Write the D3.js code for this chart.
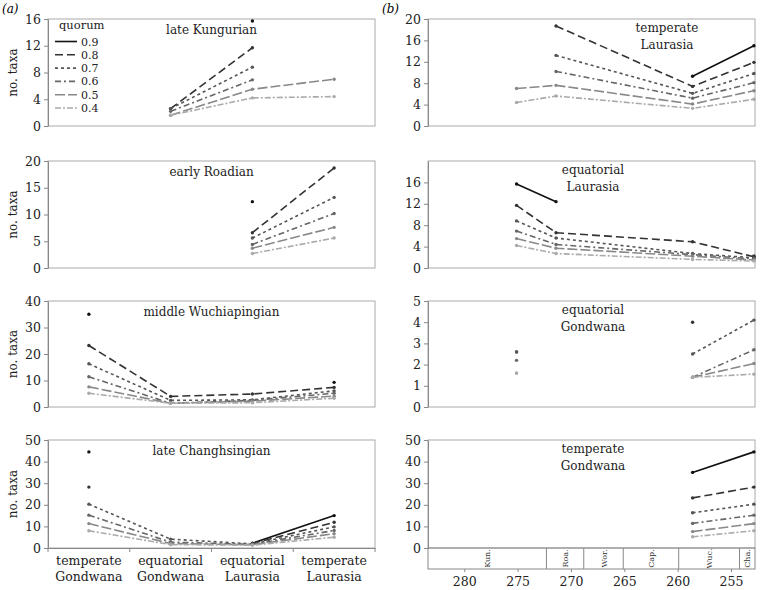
<!DOCTYPE html>
<html>
<head>
<meta charset="utf-8">
<script src="https://cdn.jsdelivr.net/npm/d3@7"></script>
<style>
  body { margin: 0; background: #fff; }
  svg, svg text { font-family: "DejaVu Serif", "Liberation Serif", serif; }
  .axis path, .axis line { stroke: #888; }
  .axis text { font-size: 12.5px; fill: #222; }
</style>
</head>
<body>
<svg width="760" height="590"></svg>
<script>
var quorums = ["0.9", "0.8", "0.7", "0.6", "0.5", "0.4"];
var regions = ["temperate Gondwana", "equatorial Gondwana", "equatorial Laurasia", "temperate Laurasia"];
var stages = ["late Kungurian", "early Roadian", "middle Wuchiapingian", "late Changhsingian"];
var stageAges = [275.1, 271.4, 258.6, 252.85];

// rows = quorum 0.9 .. 0.4, columns = regions
var lateKungurian = [
  [null, null, 15.7, null],
  [null, 2.6, 11.7, null],
  [null, 2.6, 8.8, null],
  [null, 2.2, 6.9, null],
  [null, 1.6, 5.5, 7.0],
  [null, 1.6, 4.2, 4.4]
];
var earlyRoadian = [
  [null, null, 12.4, null],
  [null, null, 6.6, 18.7],
  [null, null, 5.6, 13.2],
  [null, null, 4.4, 10.2],
  [null, null, 3.7, 7.6],
  [null, null, 2.7, 5.6]
];
var middleWuchiapingian = [
  [35.0, null, null, 9.3],
  [23.2, 4.0, 4.9, 7.4],
  [16.3, 2.5, 2.7, 6.1],
  [11.4, 1.4, 2.5, 5.2],
  [7.6, 1.4, 2.2, 4.1],
  [5.2, 1.4, 1.6, 3.3]
];
var lateChanghsingian = [
  [44.5, null, 2.2, 15.0],
  [28.2, null, 2.1, 11.9],
  [20.3, 4.1, 1.9, 9.8],
  [15.2, 2.7, 1.7, 8.1],
  [11.3, 2.05, 1.5, 6.6],
  [8.0, 1.55, 1.3, 5.0]
];
var stageData = [lateKungurian, earlyRoadian, middleWuchiapingian, lateChanghsingian];

// y axis settings for each row
var aMax = [16, 20, 40, 50], aTicks = [[0,4,8,12,16], [0,5,10,15,20], [0,10,20,30,40], [0,10,20,30,40,50]];
var bMax = [20, 20, 5, 50], bTicks = [[0,4,8,12,16,20], [0,4,8,12,16], [0,1,2,3,4,5], [0,10,20,30,40,50]];
var bRegionOrder = [3, 2, 1, 0];
var bTitles = [["temperate", "Laurasia"], ["equatorial", "Laurasia"], ["equatorial", "Gondwana"], ["temperate", "Gondwana"]];

// time strip
var stageNames = ["Kun.", "Roa.", "Wor.", "Cap.", "Wuc.", "Cha."];
var stageBounds = [283.5, 272.3, 268.8, 265.1, 259.9, 254.2, 252.2];
var timeTicks = [280, 275, 270, 265, 260, 255];

var colors = ["#111", "#333", "#555", "#666", "#888", "#aaa"];
var dashes = ["none", "8,4", "3,3", "6,3,2,3", "10,3", "6,2,2,2"];

var FONT = "'DejaVu Serif', 'Liberation Serif', serif";
var svg = d3.select("svg").attr("font-family", FONT);
var rowsY = [[19, 126], [161, 268], [301, 407], [440, 548]];
var aX0 = 48, aX1 = 375, bX0 = 428, bX1 = 755;

var xBand = d3.scaleBand().domain(regions).range([aX0, aX1]);
var xTime = d3.scaleLinear().domain([283.4, 252.75]).range([bX0, bX1]);

function drawPanel(x0, x1, yr, ymax, ticks, xpos, series) {
  var y = d3.scaleLinear().domain([0, ymax]).range([yr[1], yr[0]]);
  var g = svg.append("g");
  g.append("rect")
    .attr("x", x0).attr("y", yr[0])
    .attr("width", x1 - x0).attr("height", yr[1] - yr[0])
    .style("fill", "none").style("stroke", "#aaa");
  g.append("g")
    .attr("class", "axis")
    .attr("transform", "translate(" + x0 + ",0)")
    .call(d3.axisLeft(y).tickValues(ticks).tickFormat(d3.format("d")).tickSize(4).tickSizeOuter(0))
    .attr("font-family", FONT);

  var line = d3.line()
    .defined(function(d) { return d.v != null; })
    .x(function(d) { return d.x; })
    .y(function(d) { return y(d.v); });

  series.forEach(function(vals, i) {
    var pts = vals.map(function(v, j) { return {x: xpos[j], v: v}; });
    g.append("path")
      .datum(pts)
      .attr("d", line)
      .style("fill", "none")
      .style("stroke", colors[i])
      .style("stroke-width", 1.6)
      .style("stroke-dasharray", dashes[i]);
    g.selectAll(".pt" + i)
      .data(pts.filter(function(d) { return d.v != null; }))
      .enter().append("circle")
        .attr("cx", function(d) { return d.x; })
        .attr("cy", function(d) { return y(d.v); })
        .attr("r", 1.7)
        .style("fill", colors[i]);
  });
  return g;
}

// panel (a): one row per stage, regions on x
stages.forEach(function(st, r) {
  var xpos = regions.map(function(d) { return xBand(d) + xBand.bandwidth() / 2; });
  var g = drawPanel(aX0, aX1, rowsY[r], aMax[r], aTicks[r], xpos, stageData[r]);
  g.append("text")
    .attr("x", (aX0 + aX1) / 2).attr("y", rowsY[r][0] + 15)
    .attr("text-anchor", "middle")
    .style("font-size", "12px").style("fill", "#222")
    .text(st);
  g.append("text")
    .attr("transform", "translate(17," + (rowsY[r][0] + rowsY[r][1]) / 2 + ") rotate(-90)")
    .attr("text-anchor", "middle")
    .style("font-size", "12px").style("fill", "#222")
    .text("no. taxa");
});

// category axis under (a)
var catAxis = svg.append("g")
  .attr("class", "axis")
  .attr("transform", "translate(0," + rowsY[3][1] + ")")
  .call(d3.axisBottom(xBand).tickSize(0).tickFormat(""));
catAxis.selectAll(".bnd")
  .data(regions.concat([null]))
  .enter().append("line")
    .attr("x1", function(d, i) { return aX0 + i * xBand.step(); })
    .attr("x2", function(d, i) { return aX0 + i * xBand.step(); })
    .attr("y1", 0).attr("y2", 4)
    .style("stroke", "#888");
regions.forEach(function(rg) {
  var parts = rg.split(" ");
  var t = svg.append("text")
    .attr("x", xBand(rg) + xBand.bandwidth() / 2)
    .attr("y", rowsY[3][1] + 17)
    .attr("text-anchor", "middle")
    .style("font-size", "12.5px").style("fill", "#222");
  t.append("tspan").text(parts[0]);
  t.append("tspan").attr("x", xBand(rg) + xBand.bandwidth() / 2).attr("dy", 16).text(parts[1]);
});

// panel (b): one row per region, time on x
bRegionOrder.forEach(function(ri, r) {
  var series = quorums.map(function(q, qi) {
    return stageData.map(function(sd) { return sd[qi][ri]; });
  });
  var xpos = stageAges.map(function(a) { return xTime(a); });
  var g = drawPanel(bX0, bX1, rowsY[r], bMax[r], bTicks[r], xpos, series);
  var cx = r == 0 ? 667 : 593;
  var t = g.append("text")
    .attr("x", cx).attr("y", rowsY[r][0] + 13)
    .attr("text-anchor", "middle")
    .style("font-size", "12px").style("fill", "#222");
  t.append("tspan").text(bTitles[r][0]);
  t.append("tspan").attr("x", cx).attr("dy", 17).text(bTitles[r][1]);
});

// time strip under (b)
var stripTop = rowsY[3][1], stripBot = 569;
var strip = svg.append("g");
strip.append("rect")
  .attr("x", bX0).attr("y", stripTop)
  .attr("width", bX1 - bX0).attr("height", stripBot - stripTop)
  .style("fill", "none").style("stroke", "#888");
stageNames.forEach(function(s, i) {
  var a = Math.max(xTime(stageBounds[i]), bX0), b = Math.min(xTime(stageBounds[i + 1]), bX1);
  if (i > 0) {
    strip.append("line")
      .attr("x1", a).attr("x2", a).attr("y1", stripTop).attr("y2", stripBot)
      .style("stroke", "#888");
  }
  strip.append("text")
    .attr("transform", "translate(" + ((a + b) / 2 + 3) + "," + (stripTop + stripBot) / 2 + ") rotate(-90)")
    .attr("text-anchor", "middle")
    .style("font-size", "8px").style("fill", "#333")
    .text(s);
});
svg.append("g")
  .attr("class", "axis")
  .attr("transform", "translate(0," + stripBot + ")")
  .call(d3.axisBottom(xTime).tickValues(timeTicks).tickSize(3).tickSizeOuter(0))
  .attr("font-family", FONT)
  .call(function(g) { g.select(".domain").remove(); })
  .selectAll("text").attr("dy", "0.85em").style("font-size", "12.5px");

// legend
var legend = svg.append("g");
legend.append("text")
  .attr("x", 59).attr("y", 29)
  .style("font-size", "11.5px").style("fill", "#222")
  .text("quorum");
quorums.forEach(function(q, i) {
  var ly = 41.5 + i * 13.3;
  legend.append("line")
    .attr("x1", 55).attr("x2", 77).attr("y1", ly).attr("y2", ly)
    .style("stroke", colors[i]).style("stroke-width", 1.6)
    .style("stroke-dasharray", dashes[i]);
  legend.append("text")
    .attr("x", 81).attr("y", ly + 4)
    .style("font-size", "11px").style("fill", "#222")
    .text(q);
});

// panel letters
svg.append("text").attr("x", 2).attr("y", 13)
  .style("font-size", "12px").style("font-style", "italic").text("(a)");
svg.append("text").attr("x", 382).attr("y", 13)
  .style("font-size", "12px").style("font-style", "italic").text("(b)");
</script>
</body>
</html>
